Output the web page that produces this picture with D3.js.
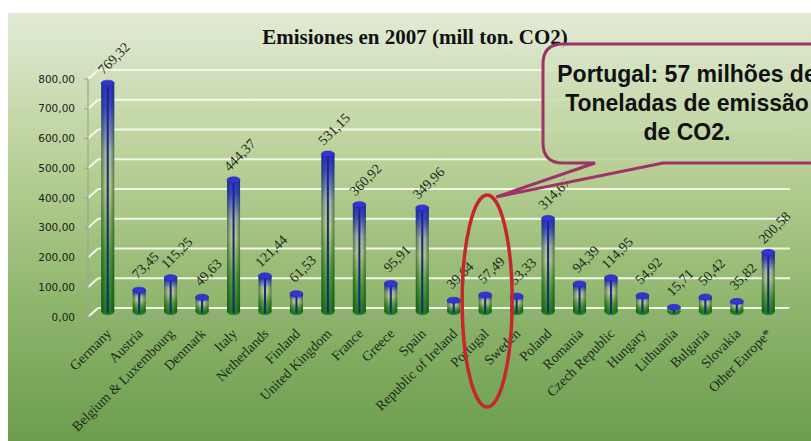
<!DOCTYPE html>
<html>
<head>
<meta charset="utf-8">
<script src="https://cdn.jsdelivr.net/npm/d3@7"></script>
<style>
  body { margin: 0; background: #fff; }
  svg { display: block; }
</style>
</head>
<body>
<div id="chart1"></div>
<script>
// data
var countries = ["Germany", "Austria", "Belgium & Luxembourg", "Denmark", "Italy", "Netherlands",
	"Finland", "United Kingdom", "France", "Greece", "Spain", "Republic of Ireland", "Portugal",
	"Sweden", "Poland", "Romania", "Czech Republic", "Hungary", "Lithuania", "Bulgaria",
	"Slovakia", "Other Europe*"];
var emissions = [769.32, 73.45, 115.25, 49.63, 444.37, 121.44, 61.53, 531.15, 360.92, 95.91,
	349.96, 39.64, 57.49, 53.33, 314.67, 94.39, 114.95, 54.92, 15.71, 50.42, 35.82, 200.58];
var yTicks = [0, 100, 200, 300, 400, 500, 600, 700, 800];
var titleText = "Emisiones en 2007 (mill ton. CO2)";
var calloutLines = ["Portugal: 57 milhões de", "Toneladas de emissão", "de CO2."];
var highlight = "Portugal";

draw_chart();

function draw_chart() {
	var width = 811, height = 441;
	var depthX = 10;   // fake 3d offset of the back wall
	var serif = "'Liberation Serif', 'Times New Roman', serif";

	var fmt = function (v) { return d3.format(".2f")(v).replace(".", ","); };

	var svg = d3.select("#chart1").append("svg")
		.attr("width", width)
		.attr("height", height);

	var defs = svg.append("defs");

	// background gradient
	var bg = defs.append("linearGradient").attr("id", "bg")
		.attr("gradientUnits", "userSpaceOnUse")
		.attr("x1", 0).attr("y1", 13).attr("x2", 0).attr("y2", height);
	[[0, "#e2ebd5"], [0.35, "#b9d097"], [0.7, "#8cb46a"], [1, "#6c9d4f"]].forEach(function (s) {
		bg.append("stop").attr("offset", s[0]).attr("stop-color", s[1]);
	});

	// bar body, top blue to green bottom
	var barV = defs.append("linearGradient").attr("id", "barV")
		.attr("x1", 0).attr("y1", 0).attr("x2", 0).attr("y2", 1);
	[[0, "#2c2cd8"], [0.1, "#3b44cc"], [0.3, "#9fb2a6"], [0.45, "#b3c58c"], [0.75, "#4f9a3f"], [1, "#1f7a22"]].forEach(function (s) {
		barV.append("stop").attr("offset", s[0]).attr("stop-color", s[1]);
	});
	// round shading across the cylinder
	var barH = defs.append("linearGradient").attr("id", "barH")
		.attr("x1", 0).attr("y1", 0).attr("x2", 1).attr("y2", 0);
	[[0, 0.55], [0.3, 0], [0.7, 0], [1, 0.55]].forEach(function (s) {
		barH.append("stop").attr("offset", s[0]).attr("stop-color", "#0c3a0c").attr("stop-opacity", s[1]);
	});

	svg.append("rect")
		.attr("x", 8).attr("y", 13)
		.attr("width", width - 8).attr("height", height - 13)
		.style("fill", "url(#bg)");

	var x = d3.scaleBand()
		.domain(countries)
		.range([92, 784]);

	var y = d3.scaleLinear()
		.domain([0, 800])
		.range([312, 74]);

	var axisX = 88;
	var front = function (v) { return y(v) + 5; };
	var back = function (v) { return y(v) - 4; };

	// gridlines on the back wall + side wall diagonals
	var grid = svg.append("g");
	grid.selectAll("line.grid")
		.data(yTicks)
		.enter().append("line")
		.attr("class", "grid")
		.attr("x1", axisX + depthX).attr("x2", 790)
		.attr("y1", back).attr("y2", back)
		.style("stroke", "#f4f8e8")
		.style("stroke-width", 2);
	grid.selectAll("line.diag")
		.data(yTicks)
		.enter().append("line")
		.attr("class", "diag")
		.attr("x1", axisX).attr("x2", axisX + depthX)
		.attr("y1", front).attr("y2", back)
		.style("stroke", "#f4f8e8")
		.style("stroke-width", 2);

	// floor front edge and vertical axis
	svg.append("path")
		.attr("d", "M" + axisX + "," + front(800) + "V" + front(0) + "H778L790," + back(0))
		.style("fill", "none")
		.style("stroke", "#9aa890")
		.style("stroke-width", 1.2);

	svg.selectAll("line.ytick")
		.data(yTicks)
		.enter().append("line")
		.attr("x1", axisX - 4).attr("x2", axisX)
		.attr("y1", front).attr("y2", front)
		.style("stroke", "#9aa890");

	svg.selectAll("line.xtick")
		.data(countries.concat([null]))
		.enter().append("line")
		.attr("x1", function (d, i) { return 92 + i * x.step() - 4; })
		.attr("x2", function (d, i) { return 92 + i * x.step() - 4; })
		.attr("y1", front(0)).attr("y2", front(0) + 4)
		.style("stroke", "#9aa890");

	svg.selectAll("text.ylab")
		.data(yTicks)
		.enter().append("text")
		.attr("x", 75)
		.attr("y", front)
		.attr("dy", "0.35em")
		.attr("text-anchor", "end")
		.attr("font-family", "'DejaVu Sans', Verdana, sans-serif")
		.attr("font-size", "10.5px")
		.attr("fill", "#1a221a")
		.text(fmt);

	// bars as cylinders
	var bw = 13, ry = 3;
	var cx = function (d, i) { return x(countries[i]) + x.bandwidth() / 2; };

	var bars = svg.selectAll("g.bar")
		.data(emissions)
		.enter().append("g")
		.attr("class", "bar");

	bars.append("ellipse")
		.attr("cx", cx).attr("cy", y(0))
		.attr("rx", bw / 2).attr("ry", ry)
		.style("fill", "#1f7a22");
	bars.append("rect")
		.attr("x", function (d, i) { return cx(d, i) - bw / 2; })
		.attr("y", function (d) { return y(d); })
		.attr("width", bw)
		.attr("height", function (d) { return y(0) - y(d); })
		.style("fill", "url(#barV)");
	bars.append("rect")
		.attr("x", function (d, i) { return cx(d, i) - bw / 2; })
		.attr("y", function (d) { return y(d); })
		.attr("width", bw)
		.attr("height", function (d) { return y(0) - y(d); })
		.style("fill", "url(#barH)");
	bars.append("line")
		.attr("x1", cx).attr("x2", cx)
		.attr("y1", function (d) { return y(d); })
		.attr("y2", y(0) + 1)
		.style("stroke", "#1b2a72")
		.style("stroke-width", 2);
	bars.append("ellipse")
		.attr("cx", cx).attr("cy", function (d) { return y(d); })
		.attr("rx", bw / 2).attr("ry", ry)
		.style("fill", "#3434d2")
		.style("stroke", "#2323a8")
		.style("stroke-width", 0.6);

	// value labels
	svg.selectAll("text.val")
		.data(emissions)
		.enter().append("text")
		.attr("transform", function (d, i) {
			return "translate(" + (cx(d, i) + 6) + "," + (y(d) - 25) + ") rotate(-45)";
		})
		.attr("dy", "0.35em")
		.attr("text-anchor", "middle")
		.attr("font-family", serif)
		.attr("font-size", "14px")
		.attr("fill", "#1e2a1e")
		.text(fmt);

	// category labels
	svg.selectAll("text.cat")
		.data(countries)
		.enter().append("text")
		.attr("transform", function (d) {
			return "translate(" + (x(d) + x.bandwidth() / 2 + 1) + ",331) rotate(-45)";
		})
		.attr("dy", "0.35em")
		.attr("text-anchor", "end")
		.attr("font-family", serif)
		.attr("font-size", "14px")
		.attr("fill", "#1e2a1e")
		.text(function (d) { return d; });

	// title
	svg.append("text")
		.attr("x", 415).attr("y", 44)
		.attr("text-anchor", "middle")
		.attr("font-family", serif)
		.attr("font-weight", "bold")
		.attr("font-size", "21px")
		.attr("fill", "#111")
		.text(titleText);

	// red ellipse round Portugal
	var px = x(highlight) + x.bandwidth() / 2 + 2;
	svg.append("ellipse")
		.attr("cx", px).attr("cy", 301)
		.attr("rx", 25).attr("ry", 106)
		.style("fill", "none")
		.style("stroke", "#c4282c")
		.style("stroke-width", 3.5);

	// speech callout
	var apexX = px + 9, apexY = 197;
	var callout = "M563,44 L840,44 Q860,44 860,64 L860,143 Q860,163 840,163 L663,163 L" +
		apexX + "," + apexY + " L595,163 L563,163 Q543,163 543,143 L543,64 Q543,44 563,44 Z";
	svg.append("path")
		.attr("d", callout)
		.style("fill", "url(#bg)")
		.style("fill-opacity", 0.85)
		.style("stroke", "#9c3468")
		.style("stroke-width", 3);

	svg.selectAll("text.call")
		.data(calloutLines)
		.enter().append("text")
		.attr("x", 687)
		.attr("y", function (d, i) { return 82 + i * 29; })
		.attr("text-anchor", "middle")
		.attr("font-family", "'Liberation Sans', Arial, sans-serif")
		.attr("font-weight", "bold")
		.attr("font-size", "23px")
		.attr("fill", "#111")
		.text(function (d) { return d; });
}
</script>
</body>
</html>
